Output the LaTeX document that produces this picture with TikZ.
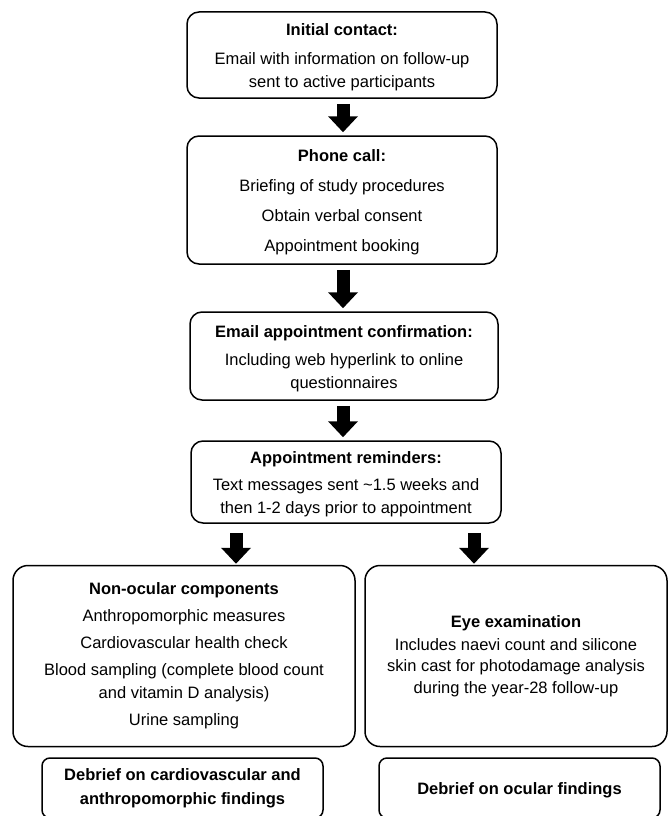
\documentclass[tikz,border=0pt]{standalone}
\usepackage{fontspec}
\setmainfont{Liberation Sans}
\usetikzlibrary{arrows.meta,positioning}
\newcommand{\lowered}{\rule{0pt}{17pt}}
\tikzset{
  stage/.style={draw, line width=1.5pt, rounded corners=12pt, align=center, inner sep=0pt,
    font=\fontsize{16.5}{23}\selectfont},
  flowarrow/.style={line width=13pt, -{Triangle[length=16pt,width=29pt]}, shorten <=5pt, shorten >=3pt}
}
\begin{document}
\begin{tikzpicture}[x=1pt, y=-1pt]
  \useasboundingbox (0,0) rectangle (668,816);
  \clip (0,0) rectangle (668,816);
  % main column
  \node[stage, minimum width=310pt, minimum height=86pt] (contact) at (342,55)
    {\lowered\textbf{Initial contact:}\\[6pt] Email with information on follow-up\\ sent to active participants};
  \node[stage, minimum width=310pt, minimum height=128pt] (phone) at (342,200)
    {\lowered\textbf{Phone call:}\\[7pt] Briefing of study procedures\\[7pt] Obtain verbal consent\\[7pt] Appointment booking};
  \node[stage, minimum width=308pt, minimum height=88pt] (confirm) at (344,356)
    {\lowered\textbf{Email appointment confirmation:}\\[5pt] Including web hyperlink to online\\ questionnaires};
  \node[stage, minimum width=310pt, minimum height=82pt] (remind) at (346,482)
    {\lowered\textbf{Appointment reminders:}\\[4pt] Text messages sent \textasciitilde1.5 weeks and\\ then 1-2 days prior to appointment};
  % two branches
  \node[stage, rounded corners=15pt, minimum width=342pt, minimum height=181pt] (nonocular) at (184,656)
    {\textbf{Non-ocular components}\\[4pt] Anthropomorphic measures\\[4pt] Cardiovascular health check\\[4pt]
     Blood sampling (complete blood count\\ and vitamin D analysis)\\[4pt] Urine sampling};
  \node[stage, rounded corners=15pt, minimum width=302pt, minimum height=181pt, font=\fontsize{16.5}{21.5}\selectfont] (eye) at (516,656)
    {\textbf{Eye examination}\\[1pt] Includes naevi count and silicone\\ skin cast for photodamage analysis\\ during the year-28 follow-up};
  \node[stage, rounded corners=8pt, minimum width=281pt, minimum height=60pt] (debriefcv) at (182.5,788)
    {\textbf{Debrief on cardiovascular and}\\[1pt] \textbf{anthropomorphic findings}};
  \node[stage, rounded corners=8pt, minimum width=281pt, minimum height=60pt] (debriefeye) at (519.5,788)
    {\lowered\textbf{Debrief on ocular findings}};
  % arrows
  \coordinate (axis) at (343,0);
  \coordinate (splitL) at (236,0);
  \coordinate (splitR) at (474,0);
  \draw[flowarrow] (contact.south -| axis) -- (phone.north -| axis);
  \draw[flowarrow] (phone.south -| axis) -- (confirm.north -| axis);
  \draw[flowarrow] (confirm.south -| axis) -- (remind.north -| axis);
  \draw[flowarrow, shorten <=9pt, shorten >=1pt] (remind.south -| splitL) -- (nonocular.north -| splitL);
  \draw[flowarrow, shorten <=9pt, shorten >=1pt] (remind.south -| splitR) -- (eye.north -| splitR);
\end{tikzpicture}
\end{document}
